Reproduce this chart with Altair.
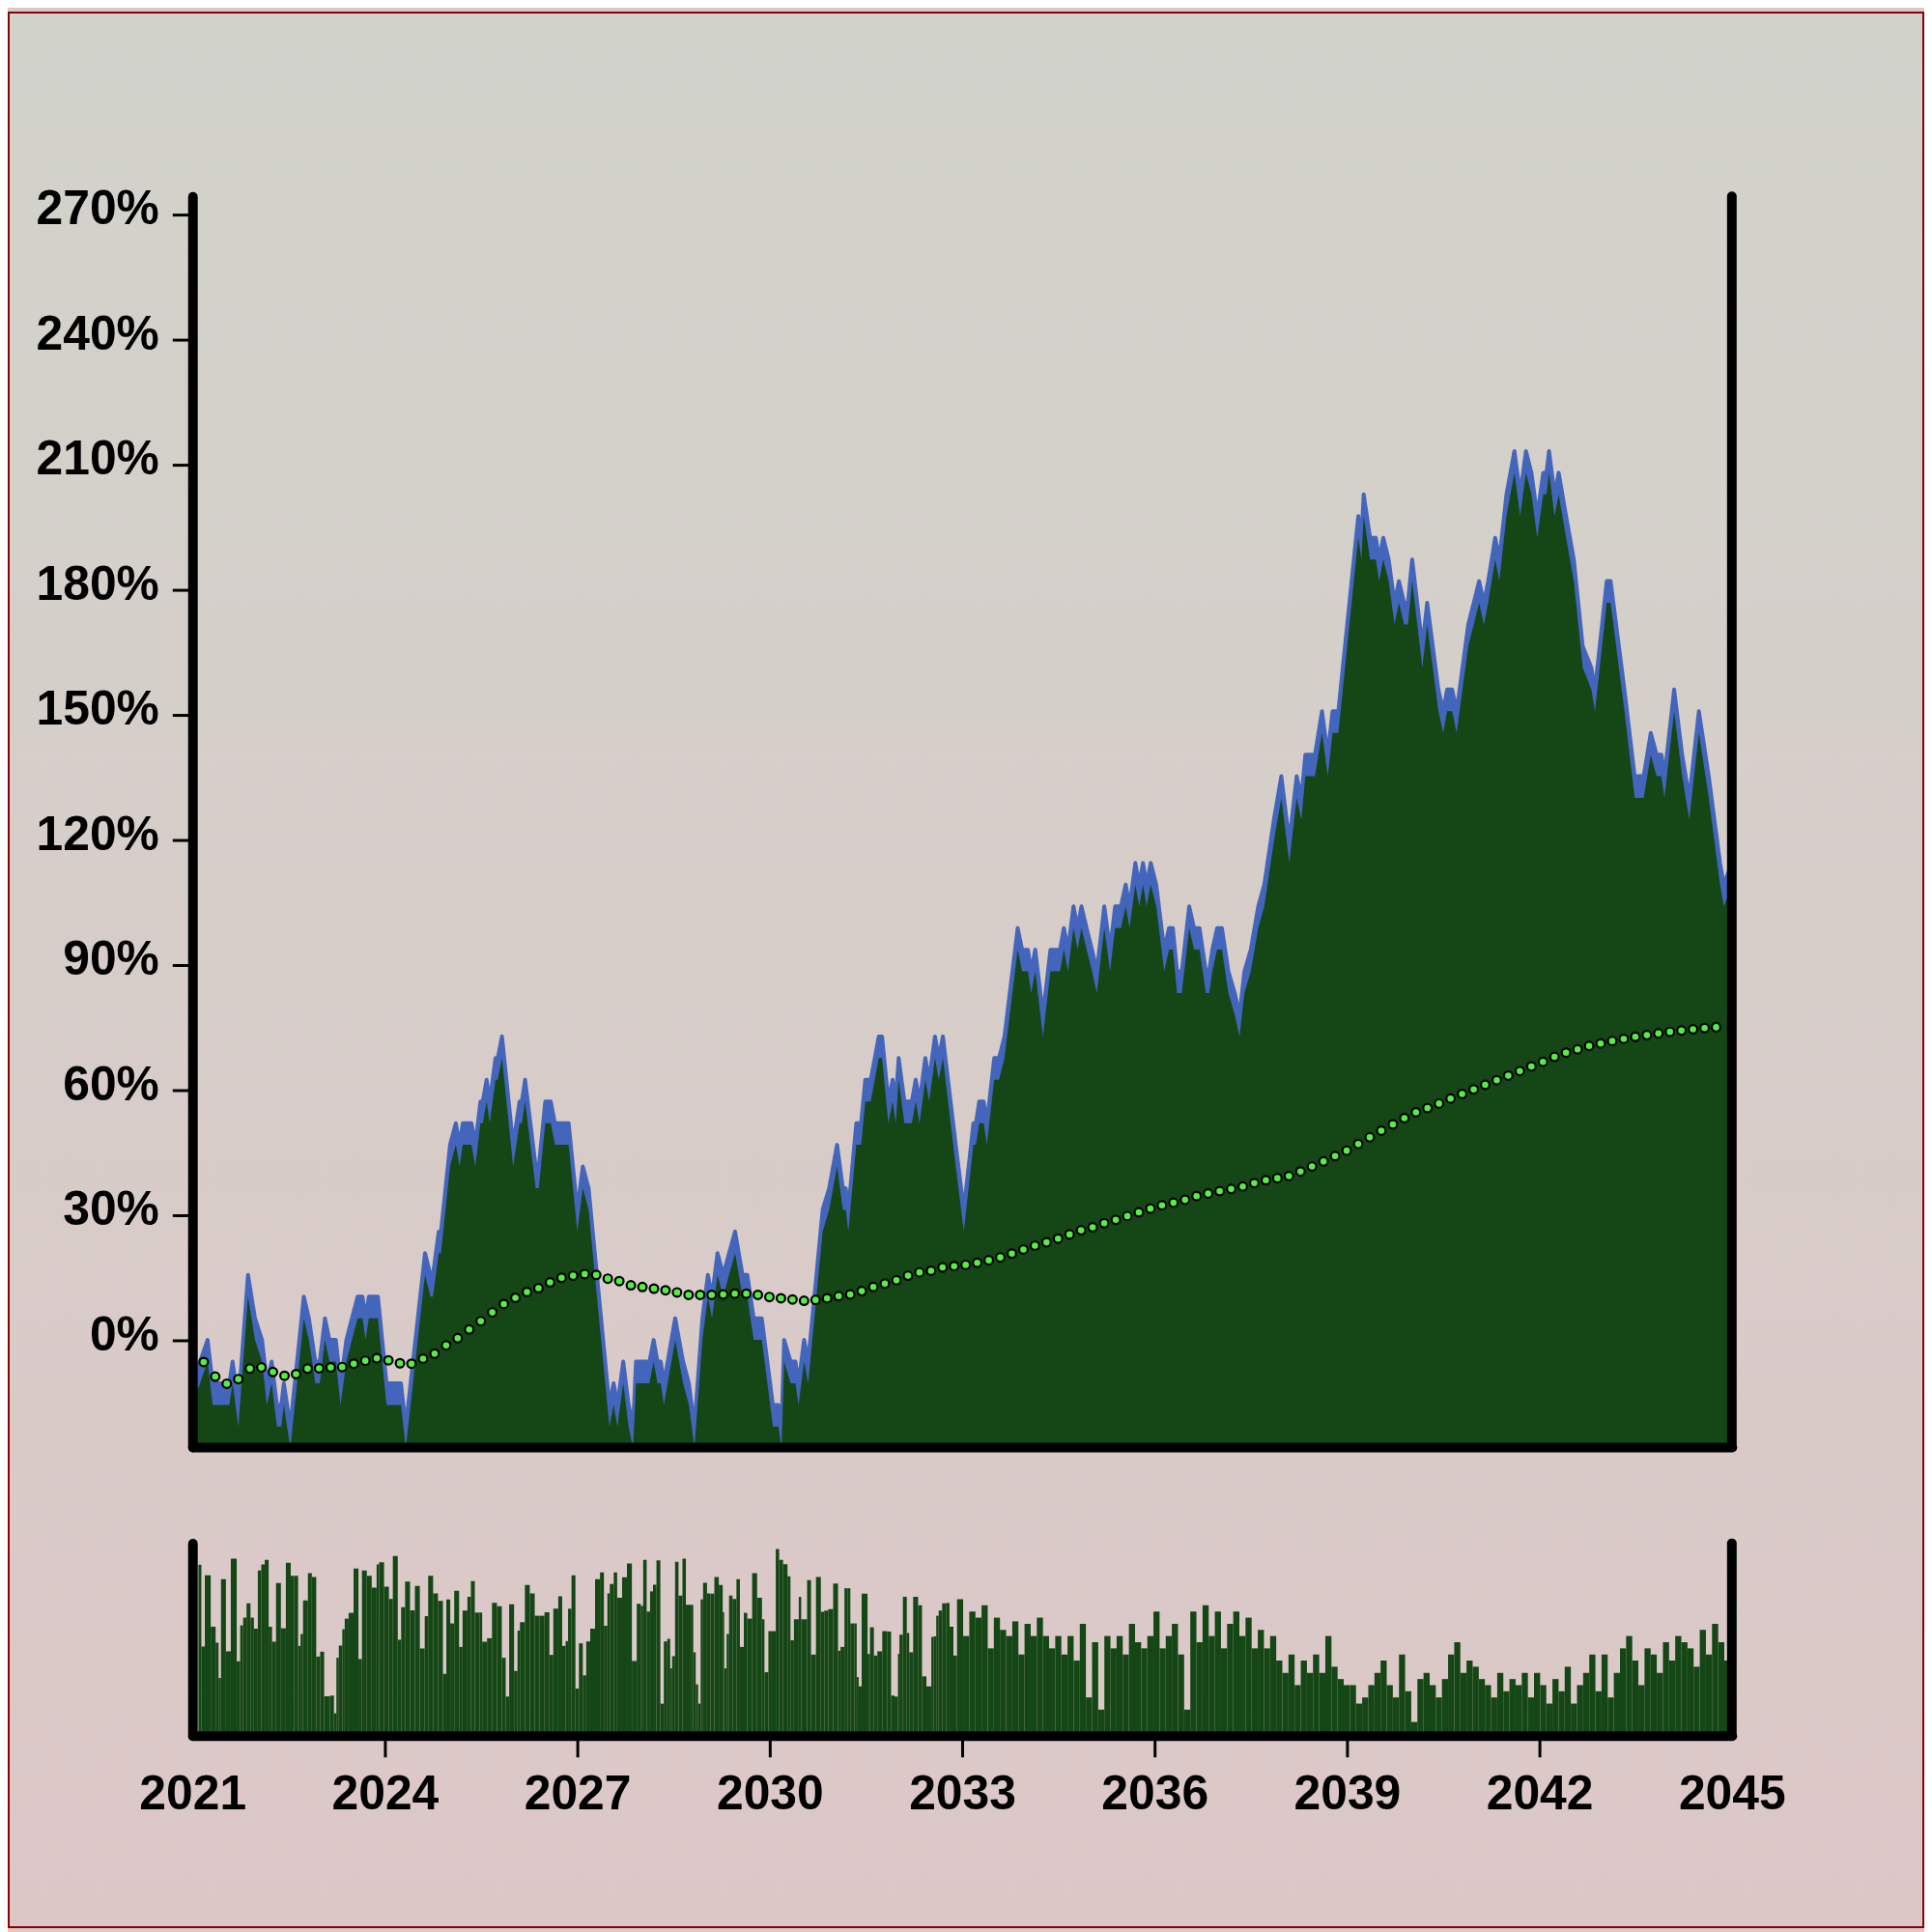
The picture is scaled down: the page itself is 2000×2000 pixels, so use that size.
import altair as alt
import pandas as pd

# ---------------- data ----------------
# main series: turning points (year, level); one level = 5.2 percentage points
years = [2021.000, 2021.236, 2021.315, 2021.575, 2021.626, 2021.716, 2021.866, 2021.975, 2022.085, 2022.160,
         2022.235, 2022.316, 2022.385, 2022.425, 2022.526, 2022.736, 2022.815, 2022.916, 2022.985, 2023.066,
         2023.135, 2023.235, 2023.310, 2023.400, 2023.486, 2023.576, 2023.651, 2023.700, 2023.750, 2023.891,
         2024.026, 2024.251, 2024.326, 2024.626, 2024.710, 2024.750, 2024.840, 2024.875, 2025.016, 2025.106,
         2025.166, 2025.215, 2025.350, 2025.410, 2025.490, 2025.526, 2025.586, 2025.635, 2025.725, 2025.760,
         2025.826, 2026.000, 2026.100, 2026.135, 2026.186, 2026.351, 2026.400, 2026.501, 2026.585, 2026.651,
         2026.865, 2027.000, 2027.086, 2027.176, 2027.500, 2027.566, 2027.626, 2027.716, 2027.800, 2027.870,
         2027.915, 2028.125, 2028.190, 2028.250, 2028.301, 2028.350, 2028.526, 2028.650, 2028.740, 2028.826,
         2028.950, 2029.036, 2029.100, 2029.186, 2029.276, 2029.366, 2029.460, 2029.576, 2029.651, 2029.750,
         2029.876, 2030.050, 2030.135, 2030.185, 2030.225, 2030.326, 2030.401, 2030.450, 2030.536, 2030.600,
         2030.825, 2030.926, 2031.050, 2031.140, 2031.185, 2031.226, 2031.350, 2031.425, 2031.490, 2031.575,
         2031.700, 2031.751, 2031.850, 2031.916, 2031.965, 2032.010, 2032.100, 2032.216, 2032.276, 2032.336,
         2032.426, 2032.486, 2032.576, 2032.636, 2032.700, 2032.900, 2033.026, 2033.176, 2033.215, 2033.266,
         2033.335, 2033.386, 2033.500, 2033.575, 2033.660, 2033.866, 2033.935, 2034.025, 2034.076, 2034.140,
         2034.260, 2034.376, 2034.526, 2034.586, 2034.650, 2034.736, 2034.800, 2034.860, 2034.940, 2035.025,
         2035.100, 2035.216, 2035.306, 2035.385, 2035.475, 2035.550, 2035.610, 2035.700, 2035.760, 2035.820,
         2035.876, 2035.940, 2036.026, 2036.150, 2036.225, 2036.285, 2036.350, 2036.425, 2036.540, 2036.615,
         2036.701, 2036.800, 2036.851, 2036.900, 2036.975, 2037.050, 2037.151, 2037.250, 2037.325, 2037.400,
         2037.500, 2037.616, 2037.710, 2037.860, 2037.976, 2038.100, 2038.216, 2038.288, 2038.351, 2038.501,
         2038.610, 2038.700, 2038.775, 2038.865, 2039.176, 2039.225, 2039.260, 2039.360, 2039.450, 2039.500,
         2039.566, 2039.650, 2039.740, 2039.810, 2039.890, 2039.950, 2040.016, 2040.175, 2040.250, 2040.425,
         2040.500, 2040.560, 2040.640, 2040.710, 2040.890, 2040.976, 2041.060, 2041.135, 2041.201, 2041.310,
         2041.375, 2041.486, 2041.610, 2041.700, 2041.790, 2041.876, 2041.966, 2042.060, 2042.110, 2042.150,
         2042.236, 2042.300, 2042.416, 2042.536, 2042.675, 2042.810, 2042.866, 2043.050, 2043.110, 2043.325,
         2043.485, 2043.625, 2043.736, 2043.826, 2043.901, 2043.950, 2044.100, 2044.225, 2044.336, 2044.486,
         2044.640, 2044.816, 2044.876, 2045.000]
levels = [-2, 0, -2, -2, -1, -3, 3, 1, 0, -2,
          -1, -3, -3, -2, -4, 2, 1, -1, -1, 1,
          0, 0, -2, 0, 1, 2, 2, 1, 2, 2,
          -2, -2, -4, 4, 3, 3, 5, 5, 9, 10,
          9, 10, 10, 9, 11, 11, 12, 11, 13, 13,
          14, 9, 11, 11, 12, 8, 8, 11, 11, 10,
          10, 6, 8, 7, -3, -2, -3, -1, -3, -4,
          -1, -1, 0, -1, -1, -2, 1, -1, -2, -4,
          1, 3, 2, 4, 3, 4, 5, 3, 3, 1,
          1, -3, -3, -4, 0, -1, -1, -2, 0, -1,
          6, 7, 9, 7, 7, 6, 10, 10, 12, 12,
          14, 14, 11, 12, 11, 13, 11, 11, 12, 11,
          13, 12, 14, 13, 14, 9, 6, 10, 10, 11,
          11, 10, 13, 13, 14, 19, 18, 18, 17, 18,
          15, 18, 18, 19, 18, 20, 19, 20, 19, 18,
          17, 20, 18, 20, 20, 21, 20, 22, 21, 22,
          21, 22, 21, 18, 19, 19, 17, 17, 20, 19,
          19, 17, 17, 18, 19, 19, 17, 16, 15, 17,
          18, 20, 21, 24, 26, 23, 26, 25, 27, 27,
          29, 27, 29, 29, 38, 37, 39, 37, 37, 36,
          37, 36, 34, 35, 34, 34, 36, 32, 34, 30,
          29, 30, 30, 29, 33, 34, 35, 34, 35, 37,
          36, 39, 41, 39, 41, 40, 38, 40, 40, 41,
          39, 40, 38, 36, 32, 31, 30, 35, 35, 30,
          26, 26, 28, 27, 27, 26, 30, 27, 25, 29,
          26, 22, 21, 22]
LEVEL_PCT = 5.2

# moving-average dots (percent), one every 0.18 year starting 2021.175
ma_values = [-5.3, -8.8, -10.5, -9.4, -6.9, -6.6, -7.7, -8.6, -8.2, -6.9,
             -6.8, -6.6, -6.5, -5.7, -5.0, -4.4, -4.9, -5.6, -5.7, -4.5,
             -3.3, -1.3, 0.4, 2.5, 4.5, 6.6, 8.6, 10.1, 11.5, 12.4,
             13.8, 14.9, 15.4, 15.8, 15.6, 14.7, 14.1, 13.1, 12.7, 12.3,
             11.9, 11.4, 10.8, 10.8, 10.8, 10.9, 11.1, 11.1, 10.8, 10.3,
             10.0, 9.7, 9.4, 9.6, 10.0, 10.5, 10.9, 11.7, 12.7, 13.5,
             14.3, 15.4, 16.2, 16.6, 17.4, 17.7, 18.0, 18.5, 19.1, 19.8,
             20.7, 21.7, 22.6, 23.4, 24.3, 25.3, 26.3, 27.0, 28.0, 28.8,
             29.7, 30.6, 31.5, 32.3, 32.9, 33.6, 34.5, 35.1, 35.7, 36.2,
             36.8, 37.6, 38.3, 38.8, 39.3, 40.4, 41.6, 42.8, 44.1, 45.4,
             47.0, 48.6, 50.2, 51.7, 53.2, 54.6, 55.6, 56.7, 57.9, 59.0,
             60.1, 61.2, 62.3, 63.4, 64.5, 65.6, 66.7, 67.9, 68.9, 69.7,
             70.5, 71.1, 71.7, 72.2, 72.7, 73.1, 73.5, 73.9, 74.2, 74.5,
             74.8, 75.0]
MA_START = 2021.175
MA_STEP = 0.18

# lower panel bars, 2021-2033: (start year, height on a 0-200 scale)
bar_years_left = [
    2021.093, 2021.139, 2021.193, 2021.285, 2021.361, 2021.407, 2021.445, 2021.522, 2021.598, 2021.690,
    2021.744, 2021.790, 2021.843, 2021.905, 2021.958, 2022.019, 2022.073, 2022.127, 2022.188, 2022.241,
    2022.303, 2022.379, 2022.456, 2022.532, 2022.586, 2022.647, 2022.685, 2022.724, 2022.800, 2022.861,
    2022.930, 2022.991, 2023.053, 2023.144, 2023.206, 2023.244, 2023.282, 2023.336, 2023.374, 2023.435,
    2023.512, 2023.588, 2023.642, 2023.718, 2023.795, 2023.871, 2023.910, 2023.987, 2024.063, 2024.124,
    2024.201, 2024.254, 2024.315, 2024.392, 2024.468, 2024.545, 2024.621, 2024.675, 2024.752, 2024.828,
    2024.905, 2024.958, 2025.019, 2025.081, 2025.157, 2025.211, 2025.287, 2025.341, 2025.402, 2025.479,
    2025.517, 2025.593, 2025.670, 2025.747, 2025.823, 2025.884, 2025.938, 2026.014, 2026.068, 2026.106,
    2026.183, 2026.259, 2026.336, 2026.412, 2026.489, 2026.565, 2026.626, 2026.703, 2026.764, 2026.818,
    2026.856, 2026.910, 2026.971, 2027.025, 2027.086, 2027.139, 2027.201, 2027.277, 2027.354, 2027.415,
    2027.469, 2027.507, 2027.568, 2027.621, 2027.698, 2027.774, 2027.851, 2027.927, 2027.989, 2028.027,
    2028.081, 2028.134, 2028.180, 2028.234, 2028.295, 2028.349, 2028.402, 2028.448, 2028.478, 2028.524,
    2028.578, 2028.639, 2028.693, 2028.769, 2028.808, 2028.846, 2028.884, 2028.923, 2028.961, 2029.022,
    2029.076, 2029.137, 2029.206, 2029.267, 2029.290, 2029.328, 2029.366, 2029.420, 2029.481, 2029.535,
    2029.596, 2029.650, 2029.726, 2029.803, 2029.879, 2029.918, 2029.979, 2030.032, 2030.094, 2030.147,
    2030.208, 2030.277, 2030.323, 2030.377, 2030.453, 2030.491, 2030.583, 2030.644, 2030.721, 2030.797,
    2030.851, 2030.912, 2030.989, 2031.065, 2031.104, 2031.165, 2031.218, 2031.257, 2031.318, 2031.356,
    2031.387, 2031.433, 2031.525, 2031.563, 2031.624, 2031.678, 2031.754, 2031.831, 2031.892, 2031.946,
    2031.999, 2032.022, 2032.076, 2032.137, 2032.175, 2032.236, 2032.313, 2032.374, 2032.443, 2032.519,
    2032.558, 2032.596, 2032.634, 2032.688, 2032.749, 2032.803, 2032.864]
bar_h_left = [
    177.7, 92.7, 166.7, 113.3, 96.7, 60.0, 162.7, 87.7, 184.0, 77.3,
    114.7, 122.7, 137.7, 122.7, 111.3, 171.7, 178.0, 182.7, 113.3, 97.7,
    158.7, 111.7, 179.7, 166.3, 166.3, 93.3, 105.7, 140.7, 169.0, 165.0,
    82.3, 87.3, 41.0, 41.7, 23.3, 81.0, 93.7, 110.7, 121.7, 127.7,
    173.7, 79.7, 171.7, 166.3, 154.0, 178.0, 180.3, 155.0, 142.0, 186.7,
    99.7, 133.7, 160.3, 130.3, 155.7, 90.7, 124.3, 166.3, 148.0, 140.0,
    64.3, 141.7, 116.7, 150.7, 92.3, 130.0, 144.3, 160.7, 128.0, 128.0,
    97.7, 101.3, 138.0, 134.7, 81.0, 40.7, 136.7, 67.3, 109.3, 118.0,
    156.7, 148.0, 124.7, 124.7, 128.3, 84.0, 132.0, 145.0, 93.3, 98.3,
    132.0, 166.7, 49.0, 96.0, 62.7, 98.0, 111.3, 162.7, 169.7, 114.3,
    148.0, 157.7, 169.7, 143.3, 164.7, 179.0, 77.7, 137.0, 135.0, 182.7,
    129.0, 150.0, 157.0, 182.3, 33.3, 98.0, 100.7, 70.0, 82.7, 180.7,
    145.7, 184.0, 136.0, 136.0, 86.7, 53.3, 33.3, 141.7, 159.0, 148.0,
    147.7, 165.0, 156.7, 128.3, 70.0, 105.7, 145.7, 142.0, 162.7, 92.3,
    127.7, 121.7, 169.0, 143.3, 121.0, 66.0, 108.7, 108.7, 194.0, 182.7,
    178.3, 165.7, 99.3, 121.0, 144.3, 121.0, 161.7, 84.3, 165.0, 128.7,
    130.0, 131.7, 158.3, 88.3, 92.3, 153.3, 153.3, 116.7, 116.7, 61.0,
    51.3, 147.7, 85.0, 112.7, 83.3, 87.7, 108.7, 108.3, 41.7, 40.7,
    85.0, 105.0, 144.3, 106.7, 86.7, 144.3, 135.7, 61.7, 51.3, 102.7,
    103.3, 124.7, 130.0, 137.7, 138.0, 113.3, 83.3]
# lower panel bars, 2033-2045 (read every 0.0957 year)
BAR_RIGHT_START = 2032.92
BAR_RIGHT_STEP = 0.0957
bar_h_right = [141.8, 103.6, 129.1, 122.7, 135.5, 90.8, 122.7, 110.0, 103.6, 118.9,
               84.4, 116.3, 103.6, 122.7, 103.6, 90.8, 103.6, 84.4, 103.6, 78.1,
               116.3, 39.8, 97.2, 27.1, 103.6, 90.8, 103.6, 84.4, 116.3, 97.2,
               90.8, 103.6, 129.1, 90.8, 103.6, 116.3, 84.4, 27.1, 129.1, 97.2,
               135.5, 103.6, 129.1, 90.8, 116.3, 129.1, 103.6, 122.7, 90.8, 110.0,
               90.8, 103.6, 78.1, 65.3, 84.4, 52.6, 78.1, 65.3, 84.4, 65.3,
               103.6, 71.7, 58.9, 52.6, 52.6, 33.4, 39.8, 52.6, 65.3, 78.1,
               52.6, 39.8, 84.4, 46.2, 14.3, 58.9, 65.3, 52.6, 39.8, 58.9,
               84.4, 97.2, 65.3, 78.1, 71.7, 58.9, 52.6, 39.8, 65.3, 46.2,
               58.9, 52.6, 65.3, 39.8, 65.3, 52.6, 33.4, 58.9, 46.2, 71.7,
               33.4, 52.6, 65.3, 84.4, 46.2, 84.4, 39.8, 65.3, 90.8, 103.6,
               78.1, 52.6, 90.8, 84.4, 65.3, 97.2, 78.1, 103.6, 97.2, 90.8,
               71.7, 110.0, 84.4, 116.3, 97.2, 78.1]

y_ticks = [0, 30, 60, 90, 120, 150, 180, 210, 240, 270]
x_ticks = [2021, 2024, 2027, 2030, 2033, 2036, 2039, 2042, 2045]

# ---------------- styling ----------------
W, H, HB = 1600, 1300, 200
Y_MIN, Y_MAX = -25.7, 274.3
GREEN = "#154615"
BLUE = "#4365bb"
DOT = "#55ee44"
FONT = "Liberation Sans"
FS = 50

main = pd.DataFrame({"year": years, "pct": [l * LEVEL_PCT for l in levels]})
main["low"] = main["pct"] - LEVEL_PCT
ma = pd.DataFrame({"year": [MA_START + MA_STEP * k for k in range(len(ma_values))], "ma": ma_values})

bar_years = bar_years_left + [BAR_RIGHT_START + BAR_RIGHT_STEP * i for i in range(len(bar_h_right))]
bar_h = bar_h_left + bar_h_right
bar_end = bar_years[1:] + [2045.0]
bars = pd.DataFrame({"x0": bar_years, "x1": bar_end, "h": bar_h})

xscale = alt.Scale(domain=[2021, 2045], nice=False, zero=False)
yscale = alt.Scale(domain=[Y_MIN, Y_MAX], nice=False, zero=False)

axis_common = dict(domainColor="black", domainWidth=10, domainCap="round", grid=False, title=None, zindex=2)

y_axis = alt.Axis(values=y_ticks, labelExpr="datum.value + '%'", labelFont=FONT, labelFontSize=FS,
                  labelFontWeight="bold", labelColor="black", labelPadding=14, labelOffset=-5,
                  tickColor="black", tickWidth=3, tickSize=21, **axis_common)
x_axis_top = alt.Axis(labels=False, ticks=False, **axis_common)

grad = alt.LinearGradient(gradient="linear",
                          stops=[alt.GradientStop(color="#d1d3cb", offset=0),
                                 alt.GradientStop(color="#dcc7c7", offset=1)],
                          x1=0, x2=0, y1=0, y2=1)

one = pd.DataFrame({"a": [0]})
bg = alt.Chart(one).mark_rect(fill=grad, stroke="#8b0000", strokeWidth=2).encode(
    x=alt.value(-191), x2=alt.value(1799), y=alt.value(-191), y2=alt.value(1799))

blue = alt.Chart(main).mark_area(color=BLUE, clip=True, opacity=1).encode(
    x=alt.X("year:Q", scale=xscale, axis=x_axis_top),
    y=alt.Y("pct:Q", scale=yscale, axis=y_axis),
    y2=alt.datum(Y_MIN))
blue_edge = alt.Chart(main).mark_line(color=BLUE, strokeWidth=4, strokeJoin="round", clip=True).encode(
    x=alt.X("year:Q", scale=xscale),
    y=alt.Y("pct:Q", scale=yscale))
green = alt.Chart(main).mark_area(color=GREEN, clip=True, opacity=1).encode(
    x=alt.X("year:Q", scale=xscale),
    y=alt.Y("low:Q", scale=yscale),
    y2=alt.datum(Y_MIN))
dots = alt.Chart(ma).mark_circle(size=78, opacity=1, fill=DOT, stroke="black", strokeWidth=2.2).encode(
    x=alt.X("year:Q", scale=xscale),
    y=alt.Y("ma:Q", scale=yscale))
right_top = alt.Chart(one).mark_rule(color="black", strokeWidth=10, strokeCap="round").encode(
    x=alt.value(W), y=alt.value(0), y2=alt.value(H))

top = alt.layer(bg, blue, blue_edge, green, dots, right_top).properties(width=W, height=H)

x_axis_bottom = alt.Axis(values=x_ticks, format="d", labelFont=FONT, labelFontSize=FS, labelFontWeight="bold",
                         labelColor="black", labelPadding=14, labelFlush=False,
                         tickColor="black", tickWidth=3, tickSize=22,
                         tickOpacity={"condition": {"test": "datum.value == 2021 || datum.value == 2045",
                                                    "value": 0}, "value": 1},
                         **axis_common)
y_axis_bottom = alt.Axis(labels=False, ticks=False, **axis_common)

barmark = alt.Chart(bars).mark_rect(color=GREEN, opacity=1).encode(
    x=alt.X("x0:Q", scale=xscale, axis=x_axis_bottom),
    x2="x1:Q",
    y=alt.Y("h:Q", scale=alt.Scale(domain=[0, 200], nice=False), axis=y_axis_bottom),
    y2=alt.value(HB))
right_bottom = alt.Chart(one).mark_rule(color="black", strokeWidth=10, strokeCap="round").encode(
    x=alt.value(W), y=alt.value(0), y2=alt.value(HB))

bottom = alt.layer(barmark, right_bottom).properties(width=W, height=HB)

chart = alt.vconcat(top, bottom, spacing=100, bounds="flush").properties(
    padding=0, background="#dcc7c7"
).configure_view(stroke=None)

chart.save("out.html", embed_options={"renderer": "svg", "actions": False})
